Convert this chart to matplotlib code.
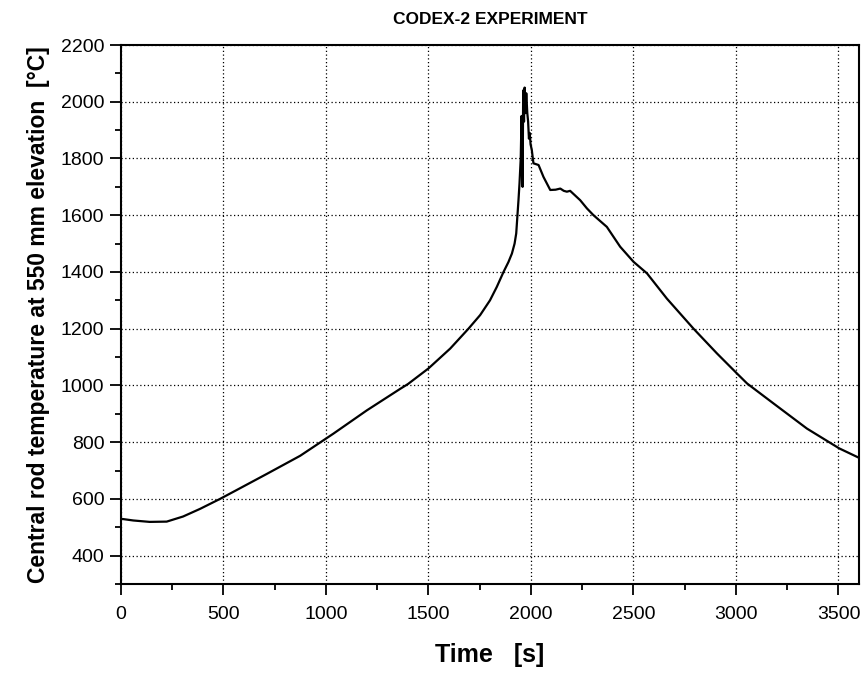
import numpy as np
import matplotlib.pyplot as plt
from matplotlib.ticker import MultipleLocator

# values
time_s = [0, 60, 140, 223, 303, 386, 483, 548, 711, 874, 1036, 1199, 1362,
          1400, 1500, 1606, 1695, 1752, 1800, 1833, 1866, 1890, 1907, 1920,
          1928, 1934, 1939, 1944, 1950, 1954, 1957, 1959, 1962, 1966, 1969,
          1973, 1977, 1982, 1986, 1990, 1994, 1998, 2004, 2012, 2037, 2061,
          2094, 2120, 2143, 2160, 2175, 2191, 2240, 2273, 2305, 2370, 2435,
          2500, 2566, 2663, 2793, 2907, 3005, 3054, 3184, 3346, 3504, 3600]
temp_c = [530, 524, 519, 520, 538, 565, 600, 625, 688, 752, 830, 912, 988,
          1005, 1060, 1130, 1200, 1248, 1300, 1347, 1400, 1435, 1465, 1500,
          1536, 1600, 1653, 1712, 1800, 1950, 1850, 1700, 2040, 1930, 2050,
          1960, 2030, 1960, 1930, 1870, 1890, 1850, 1830, 1783, 1777, 1735,
          1689, 1690, 1694, 1686, 1683, 1686, 1653, 1624, 1600, 1559, 1489,
          1436, 1395, 1306, 1200, 1113, 1042, 1007, 936, 848, 778, 745]

x_ticks = [0, 500, 1000, 1500, 2000, 2500, 3000, 3500]
y_ticks = [400, 600, 800, 1000, 1200, 1400, 1600, 1800, 2000, 2200]

plt.rcParams['font.family'] = ['Liberation Sans', 'DejaVu Sans']

fig = plt.figure(figsize=(8.66, 6.74), dpi=100)
ax = fig.add_axes([0.1397, 0.1335, 0.8522, 0.7997])

ax.plot(time_s, temp_c, color='black', lw=1.6)

ax.set_xlim(0, 3600)
ax.set_ylim(300, 2200)
ax.set_xticks(x_ticks)
ax.set_yticks(y_ticks)
ax.xaxis.set_minor_locator(MultipleLocator(250))
ax.yaxis.set_minor_locator(MultipleLocator(100))
ax.tick_params(which='major', direction='out', length=8, width=1.3,
               labelsize=14, color='black')
ax.tick_params(which='minor', direction='out', length=4, width=1.3)
ax.tick_params(axis='x', pad=8)
ax.tick_params(axis='y', pad=4)

ax.grid(True, which='major', linestyle=(0, (1, 2)), color='black', lw=0.9)
for s in ax.spines.values():
    s.set_linewidth(1.5)

ax.set_title('CODEX-2 EXPERIMENT', fontweight='bold', fontsize=12.5, pad=15)
ax.set_xlabel('Time   [s]', fontweight='bold', fontsize=18, labelpad=14)
ax.set_ylabel('Central rod temperature at 550 mm elevation  [°C]',
              fontweight='bold', fontsize=16.5, labelpad=8)

fig.savefig('out.png', dpi=100)
